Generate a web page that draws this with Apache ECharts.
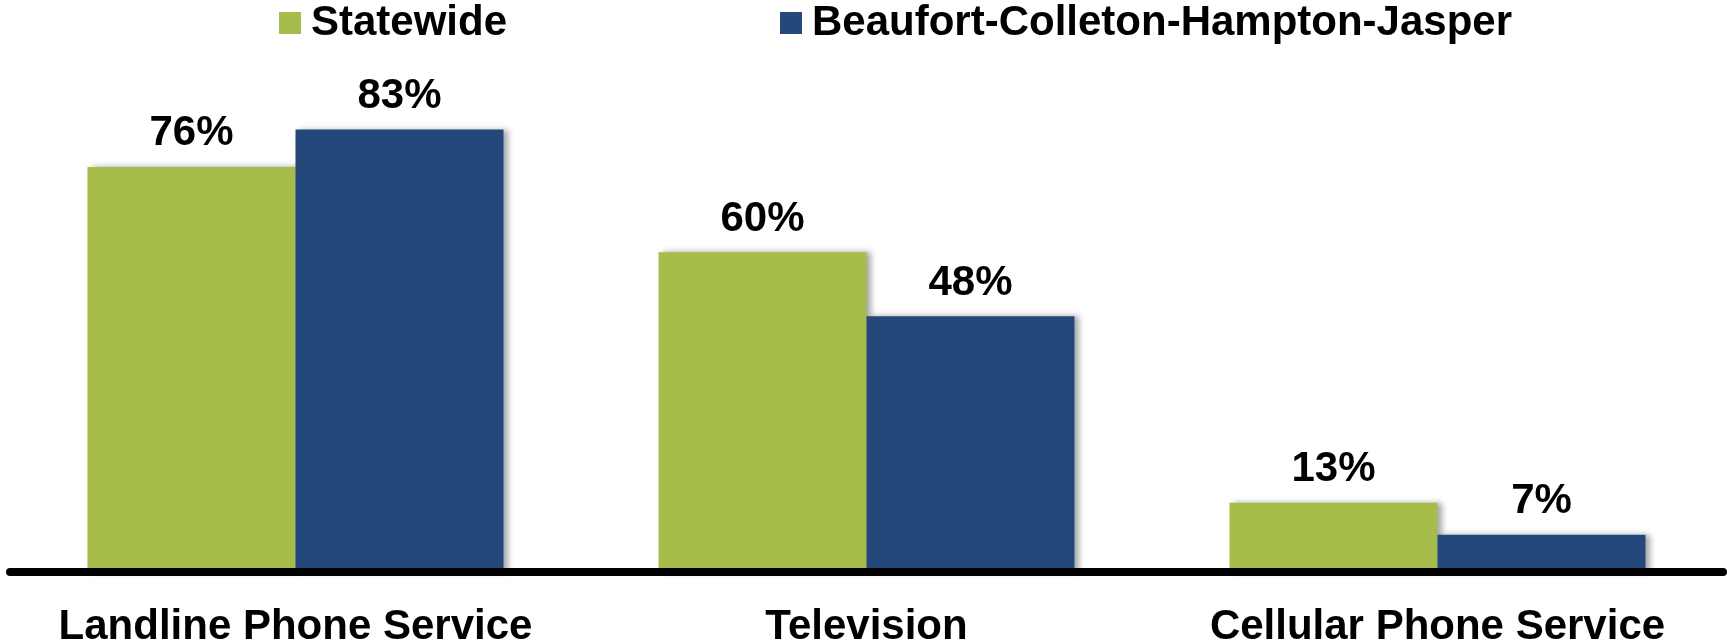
<!DOCTYPE html>
<html>
<head>
<meta charset="utf-8">
<title>Statewide vs Beaufort-Colleton-Hampton-Jasper</title>
<script src="https://cdn.jsdelivr.net/npm/echarts@6/dist/echarts.min.js"></script>
<style>
  html, body { margin: 0; padding: 0; background: #fff; }
  #chart { width: 1727px; height: 644px; }
</style>
</head>
<body>
<div id="chart"></div>
<script>
const categories = ['Landline Phone Service', 'Television', 'Cellular Phone Service'];
const seriesNames = ['Statewide', 'Beaufort-Colleton-Hampton-Jasper'];
const statewide = [76, 60, 13];
const regional = [83, 48, 7];

const colorList = ['#A6BD4C', '#24487A'];
const fontFamily = '"Liberation Sans", Arial, sans-serif';

const chart = echarts.init(document.getElementById('chart'));

// shared bar look
function barSeries(name, data, color) {
  return {
    name: name,
    type: 'bar',
    data: data,
    barWidth: 208,
    barGap: '0%',
    itemStyle: {
      color: color,
      shadowColor: 'rgba(0, 0, 0, 0.35)',
      shadowBlur: 6,
      shadowOffsetX: 4,
      shadowOffsetY: 0,
    },
    label: {
      show: true,
      position: 'top',
      distance: 12,
      formatter: '{c}%',
      color: '#000',
      fontSize: 42,
      fontWeight: 'bold',
      fontFamily: fontFamily,
    },
  };
}

const legendText = {
  color: '#000',
  fontSize: 42,
  fontWeight: 'bold',
  fontFamily: fontFamily,
  padding: [0, 0, 0, 5],
};

const options = {
  animation: false,
  color: colorList,
  legend: [
    {
      data: [seriesNames[0]],
      left: 279,
      top: 2,
      padding: 0,
      itemWidth: 22,
      itemHeight: 22,
      icon: 'rect',
      textStyle: legendText,
    },
    {
      data: [seriesNames[1]],
      left: 780,
      top: 2,
      padding: 0,
      itemWidth: 22,
      itemHeight: 22,
      icon: 'rect',
      textStyle: legendText,
    },
  ],
  grid: {
    top: 39,
    bottom: 72,
    left: 10,
    right: 4,
    outerBoundsMode: 'none', // keep the plot box fixed, labels may sit at the edge
  },
  xAxis: {
    type: 'category',
    data: categories,
    z: 10,
    axisTick: { show: false },
    axisLine: {
      show: true,
      lineStyle: { color: '#000', width: 8 },
    },
    axisLabel: {
      interval: 0,
      margin: 34,
      color: '#000',
      fontSize: 42,
      fontWeight: 'bold',
      fontFamily: fontFamily,
    },
  },
  yAxis: {
    type: 'value',
    min: 0,
    max: 100,
    show: false,
    splitLine: { show: false },
  },
  series: [
    barSeries(seriesNames[0], statewide, colorList[0]),
    barSeries(seriesNames[1], regional, colorList[1]),
  ],
};

chart.setOption(options);
</script>
</body>
</html>
